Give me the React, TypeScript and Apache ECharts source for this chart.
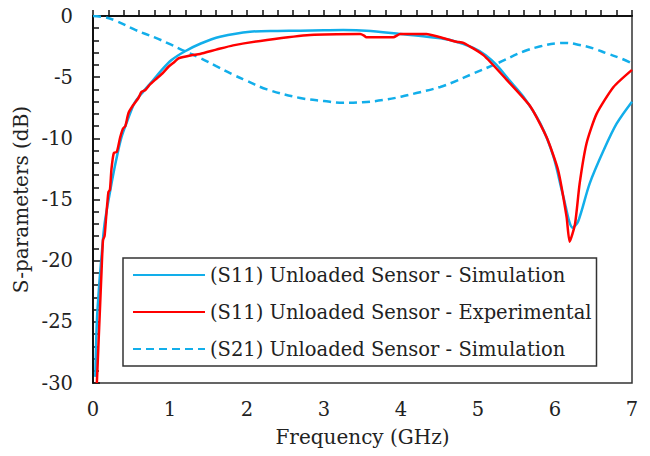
import React, { useEffect, useRef } from "react";
import * as echarts from "echarts";

const s11SimFreq = [0.03, 0.05, 0.08, 0.11, 0.15, 0.22, 0.3, 0.37, 0.45, 0.54, 0.65, 0.76, 0.88, 1.02, 1.19, 1.4, 1.65, 2.04, 2.4, 2.69, 3.0, 3.25, 3.55, 3.99, 4.42, 4.64, 4.94, 5.1, 5.24, 5.4, 5.59, 5.81, 5.98, 6.11, 6.23, 6.3, 6.45, 6.63, 6.8, 7.0];
const s11SimDb = [-29.5, -25, -22, -19.7, -17, -14.4, -11.8, -9.9, -8.5, -7.1, -6.2, -5.4, -4.5, -3.6, -2.9, -2.25, -1.7, -1.28, -1.22, -1.2, -1.17, -1.15, -1.2, -1.47, -1.75, -1.96, -2.6, -3.2, -4.0, -5.2, -6.6, -8.8, -11.5, -14.8, -17.3, -16.8, -13.7, -11.0, -8.8, -7.0];

const s11ExpFreq = [0.05, 0.07, 0.09, 0.11, 0.13, 0.15, 0.17, 0.2, 0.22, 0.24, 0.27, 0.31, 0.35, 0.39, 0.42, 0.46, 0.52, 0.59, 0.63, 0.68, 0.74, 0.81, 0.9, 0.98, 1.05, 1.11, 1.19, 1.28, 1.39, 1.6, 1.82, 2.26, 2.82, 3.47, 3.52, 3.55, 3.9, 3.99, 4.33, 4.51, 4.72, 4.81, 5.07, 5.37, 5.68, 5.89, 6.04, 6.15, 6.19, 6.26, 6.32, 6.41, 6.54, 6.76, 7.0];
const s11ExpDb = [-30, -27, -24, -21, -18.3, -18.0, -16.5, -14.4, -14.2, -12.5, -11.2, -11.1, -10.0, -9.2, -9.0, -7.95, -7.3, -6.7, -6.2, -6.05, -5.6, -5.2, -4.7, -4.15, -3.8, -3.46, -3.33, -3.2, -3.1, -2.75, -2.4, -1.96, -1.55, -1.47, -1.6, -1.74, -1.74, -1.47, -1.47, -1.74, -2.1, -2.2, -3.2, -5.2, -7.4, -9.9, -12.6, -16.4, -18.45, -17.0, -13.7, -10.4, -8.0, -5.8, -4.4];

const s21SimFreq = [0, 0.15, 0.3, 0.55, 0.8, 1.0, 1.2, 1.4, 1.6, 1.82, 2.0, 2.26, 2.69, 3.0, 3.25, 3.5, 3.77, 4.0, 4.2, 4.51, 4.72, 4.94, 5.24, 5.59, 5.8, 6.02, 6.15, 6.32, 6.5, 6.67, 6.85, 7.0];
const s21SimDb = [0, -0.1, -0.4, -1.14, -1.75, -2.3, -2.9, -3.45, -4.1, -4.8, -5.3, -6.0, -6.7, -6.95, -7.1, -7.05, -6.87, -6.6, -6.3, -5.8, -5.3, -4.7, -3.9, -2.9, -2.5, -2.23, -2.2, -2.37, -2.65, -3.05, -3.45, -3.87];

const seriesNames = [
  "(S11) Unloaded Sensor - Simulation",
  "(S11) Unloaded Sensor - Experimental",
  "(S21) Unloaded Sensor - Simulation",
];
const xTicks = [0, 1, 2, 3, 4, 5, 6, 7];
const yTicks = [-30, -25, -20, -15, -10, -5, 0];

const zip = (xs: number[], ys: number[]) => xs.map((x, i) => [x, ys[i]]);

const FONT = "DejaVu Serif";
const BLUE = "#12AEEA";
const RED = "#FF0000";

export default function App() {
  const ref = useRef<HTMLDivElement>(null);
  useEffect(() => {
    if (!ref.current) return;
    const chart = echarts.init(ref.current, undefined, { renderer: "svg" });
    chart.setOption({
      animation: false,
      backgroundColor: "#fff",
      textStyle: { fontFamily: FONT },
      grid: {
        left: 93,
        right: 18,
        top: 16,
        bottom: 73,
        show: true,
        borderColor: "#333",
        borderWidth: 1.5,
        backgroundColor: "transparent",
      },
      legend: {
        orient: "vertical",
        left: 123,
        top: 258,
        padding: [7, 5, 7, 9],
        itemWidth: 72,
        itemHeight: 14,
        itemGap: 17,
        borderColor: "#333",
        borderWidth: 1.5,
        backgroundColor: "#fff",
        itemStyle: { opacity: 0 },
        textStyle: { fontFamily: FONT, fontSize: 19.5, color: "#222" },
        data: seriesNames,
      },
      xAxis: {
        type: "value",
        min: xTicks[0],
        max: xTicks[xTicks.length - 1],
        interval: 1,
        name: "Frequency (GHz)",
        nameLocation: "middle",
        nameGap: 44,
        nameTextStyle: { fontFamily: FONT, fontSize: 20, color: "#222" },
        axisLine: { lineStyle: { color: "#111", width: 2 } },
        axisTick: { inside: true, length: 6, lineStyle: { color: "#111", width: 1.5 } },
        minorTick: { show: true, splitNumber: 5, length: 6, lineStyle: { color: "#111", width: 1.5 } },
        splitLine: { show: false },
        axisLabel: { fontFamily: FONT, fontSize: 19.5, color: "#222", margin: 16 },
      },
      yAxis: {
        type: "value",
        min: yTicks[0],
        max: yTicks[yTicks.length - 1],
        interval: 5,
        name: "S-parameters (dB)",
        nameLocation: "middle",
        nameGap: 56,
        nameTextStyle: { fontFamily: FONT, fontSize: 20, color: "#222" },
        axisLine: { lineStyle: { color: "#111", width: 2 } },
        axisTick: { inside: true, length: 7, lineStyle: { color: "#111", width: 1.5 } },
        minorTick: { show: true, splitNumber: 5, length: 6, lineStyle: { color: "#111", width: 1.5 } },
        splitLine: { show: false },
        axisLabel: { fontFamily: FONT, fontSize: 19.5, color: "#222", margin: 20 },
      },
      series: [
        {
          name: seriesNames[0],
          type: "line",
          data: zip(s11SimFreq, s11SimDb),
          smooth: 0.3,
          symbol: "none",
          color: BLUE,
          lineStyle: { color: BLUE, width: 2.5 },
          z: 2,
        },
        {
          name: seriesNames[1],
          type: "line",
          data: zip(s11ExpFreq, s11ExpDb),
          smooth: 0.2,
          symbol: "none",
          color: RED,
          lineStyle: { color: RED, width: 2.5 },
          z: 3,
        },
        {
          name: seriesNames[2],
          type: "line",
          data: zip(s21SimFreq, s21SimDb),
          smooth: 0.4,
          symbol: "none",
          color: BLUE,
          lineStyle: { color: BLUE, width: 2.5, type: [8, 5] },
          z: 2,
        },
      ],
    });
    return () => chart.dispose();
  }, []);
  return <div ref={ref} style={{ width: 650, height: 456, position: "fixed", left: 0, top: 0 }} />;
}
